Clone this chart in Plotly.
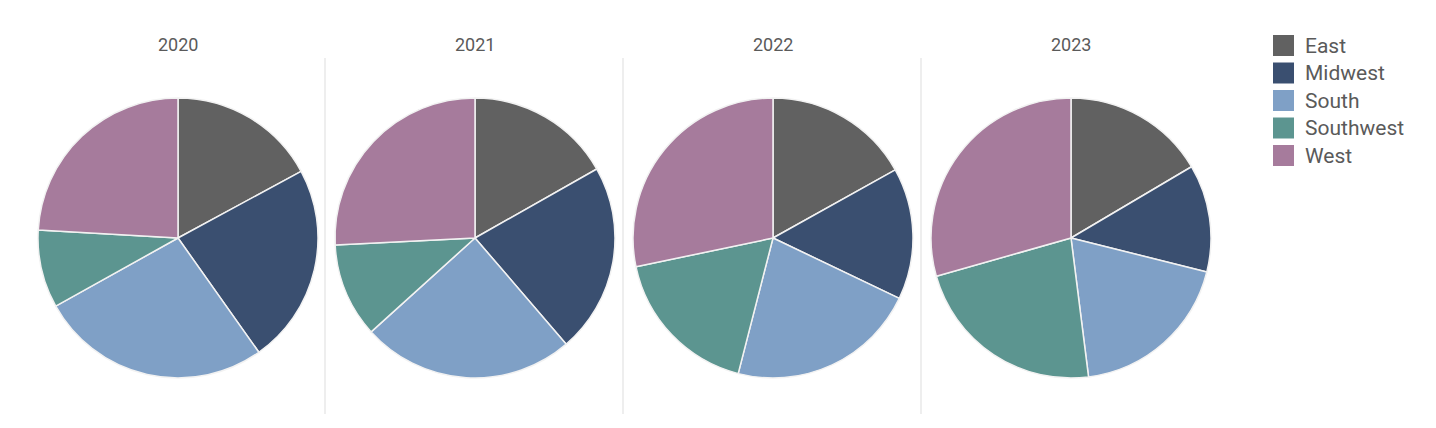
import plotly.graph_objects as go

years = ["2020", "2021", "2022", "2023"]
regions = ["East", "Midwest", "South", "Southwest", "West"]
values_2020 = [17.1, 23.1, 26.7, 9.0, 24.1]
values_2021 = [16.8, 21.9, 24.6, 10.9, 25.8]
values_2022 = [16.9, 15.2, 21.9, 17.7, 28.3]
values_2023 = [16.5, 12.4, 19.1, 22.6, 29.4]
colors = ["#616161", "#3a4f70", "#7fa0c6", "#5c9590", "#a67b9c"]

all_values = [values_2020, values_2021, values_2022, values_2023]

W, H = 1436, 428
centers_px = [178, 475, 773, 1071]
cy_px = 238
r_px = 140

fig = go.Figure()
for yr, vals, cx in zip(years, all_values, centers_px):
    fig.add_trace(go.Pie(
        labels=regions, values=vals, name=yr,
        sort=False, direction="clockwise", rotation=0,
        marker=dict(colors=colors, line=dict(color="#f2f2f2", width=1.5)),
        textinfo="none", hoverinfo="label+value+percent",
        domain=dict(x=[(cx - r_px) / W, (cx + r_px) / W],
                    y=[(H - cy_px - r_px) / H, (H - cy_px + r_px) / H]),
        showlegend=False,
    ))
    fig.add_annotation(x=cx / W, y=(H - 44) / H, xref="paper", yref="paper",
                       text=yr, showarrow=False, xanchor="center", yanchor="middle",
                       font=dict(family="Roboto", size=18, color="#5a5a5a"))

for sx in [325, 623, 921]:
    fig.add_shape(type="line", xref="paper", yref="paper",
                  x0=sx / W, x1=sx / W, y0=(H - 414) / H, y1=(H - 58) / H,
                  line=dict(color="#dddddd", width=1))

# legend drawn manually
for i, (reg, col) in enumerate(zip(regions, colors)):
    top = 35 + i * 27.5
    fig.add_shape(type="rect", xref="paper", yref="paper",
                  x0=1273 / W, x1=1294 / W, y0=(H - top - 21) / H, y1=(H - top) / H,
                  fillcolor=col, line=dict(width=0))
    fig.add_annotation(x=1303 / W, y=(H - top - 10.5) / H, xref="paper", yref="paper",
                       text=reg, showarrow=False, xanchor="left", yanchor="middle",
                       font=dict(family="Roboto", size=21, color="#5a5a5a"))

fig.update_layout(width=W, height=H, margin=dict(l=0, r=0, t=0, b=0),
                  paper_bgcolor="white", plot_bgcolor="white",
                  font=dict(family="Roboto"))
fig.write_html("out.html", config={"displayModeBar": False},
               post_script="document.body.style.margin='0';")
